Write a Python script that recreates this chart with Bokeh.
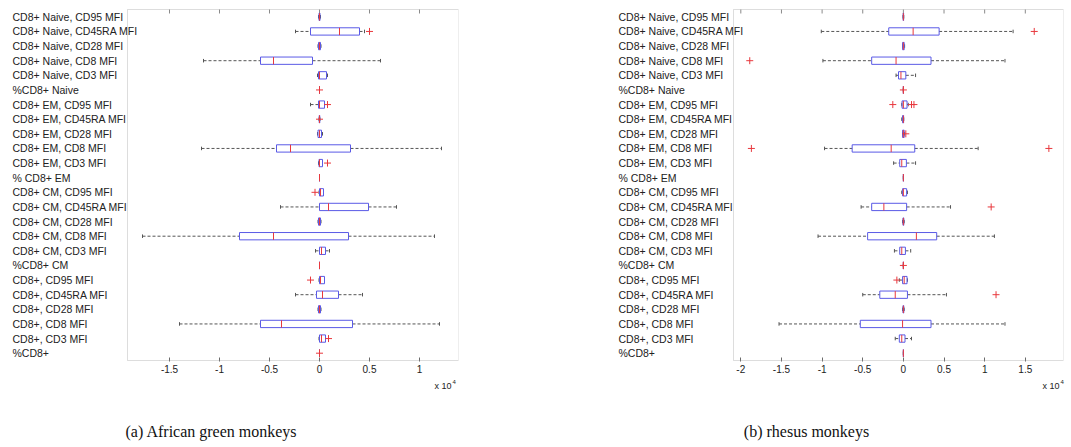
from bokeh.plotting import figure
from bokeh.models import (ColumnDataSource, Range1d, FixedTicker,
                          NumeralTickFormatter, BoxAnnotation)
from bokeh.layouts import row, column
from bokeh.core.properties import value
from bokeh.embed import file_html
from bokeh.resources import INLINE

# ---------------- data (values in units of 10^4) ----------------
labels = ["CD8+ Naive, CD95 MFI", "CD8+ Naive, CD45RA MFI", "CD8+ Naive, CD28 MFI",
          "CD8+ Naive, CD8 MFI", "CD8+ Naive, CD3 MFI", "%CD8+ Naive",
          "CD8+ EM, CD95 MFI", "CD8+ EM, CD45RA MFI", "CD8+ EM, CD28 MFI",
          "CD8+ EM, CD8 MFI", "CD8+ EM, CD3 MFI", "% CD8+ EM",
          "CD8+ CM, CD95 MFI", "CD8+ CM, CD45RA MFI", "CD8+ CM, CD28 MFI",
          "CD8+ CM, CD8 MFI", "CD8+ CM, CD3 MFI", "%CD8+ CM",
          "CD8+, CD95 MFI", "CD8+, CD45RA MFI", "CD8+, CD28 MFI",
          "CD8+, CD8 MFI", "CD8+, CD3 MFI", "%CD8+"]

# African green monkeys
agm_lo  = [-0.01, -0.24, -0.015, -1.16, -0.02, 0.0, -0.09, -0.005, -0.02, -1.18, -0.01, 0.0,
           -0.005, -0.39, -0.015, -1.77, -0.04, 0.0, -0.005, -0.24, -0.015, -1.40, -0.005, 0.0]
agm_q1  = [-0.005, -0.09, -0.01, -0.59, -0.01, 0.0, -0.01, -0.003, -0.015, -0.43, -0.005, 0.0,
           0.0, 0.0, -0.01, -0.80, 0.0, 0.0, 0.0, -0.03, -0.01, -0.59, 0.0, 0.0]
agm_med = [0.0, 0.20, 0.0, -0.46, 0.0, 0.0, 0.0, 0.0, 0.0, -0.29, 0.0, 0.0,
           0.01, 0.09, 0.0, -0.46, 0.02, 0.0, 0.01, 0.03, 0.0, -0.38, 0.02, 0.0]
agm_q3  = [0.005, 0.40, 0.01, -0.07, 0.07, 0.0, 0.05, 0.003, 0.02, 0.31, 0.03, 0.0,
           0.04, 0.49, 0.01, 0.29, 0.06, 0.0, 0.05, 0.19, 0.01, 0.33, 0.06, 0.0]
agm_hi  = [0.01, 0.45, 0.015, 0.61, 0.08, 0.0, 0.05, 0.005, 0.03, 1.22, 0.03, 0.0,
           0.04, 0.77, 0.015, 1.15, 0.10, 0.0, 0.05, 0.43, 0.015, 1.20, 0.06, 0.0]
agm_out = [[], [0.50], [], [], [], [0.0], [0.08], [0.0], [], [], [0.08], [],
           [-0.045], [], [], [], [], [], [-0.09], [], [], [], [0.09], [0.0]]

# rhesus monkeys
rh_lo  = [-0.005, -1.01, -0.01, -0.99, -0.09, 0.0, -0.02, -0.02, -0.01, -0.97, -0.12, 0.0,
          -0.02, -0.52, -0.01, -1.05, -0.11, 0.0, -0.05, -0.50, -0.01, -1.53, -0.10, 0.0]
rh_q1  = [-0.003, -0.18, -0.01, -0.39, -0.06, 0.0, -0.016, -0.01, -0.01, -0.63, -0.045, 0.0,
          -0.01, -0.39, -0.005, -0.44, -0.045, 0.0, -0.01, -0.29, -0.005, -0.53, -0.05, 0.0]
rh_med = [0.0, 0.12, 0.0, -0.09, -0.03, 0.0, 0.0, 0.0, 0.0, -0.15, -0.02, 0.0,
          0.0, -0.24, 0.0, 0.16, -0.02, 0.0, 0.01, -0.10, 0.0, -0.01, -0.02, 0.0]
rh_q3  = [0.003, 0.44, 0.01, 0.34, 0.03, 0.0, 0.045, 0.003, 0.01, 0.14, 0.037, 0.0,
          0.04, 0.04, 0.005, 0.41, 0.025, 0.0, 0.045, 0.05, 0.005, 0.34, 0.02, 0.0]
rh_hi  = [0.005, 1.35, 0.015, 1.25, 0.15, 0.0, 0.06, 0.005, 0.015, 0.92, 0.15, 0.0,
          0.05, 0.58, 0.01, 1.12, 0.09, 0.0, 0.05, 0.53, 0.01, 1.25, 0.10, 0.0]
rh_out = [[], [1.61], [], [-1.89], [], [0.0], [-0.13, 0.10, 0.13], [], [0.03], [-1.87, 1.79], [], [],
          [], [1.08], [], [], [], [0.0], [-0.08], [1.14], [], [], [], []]

ticks_a = [-1.5, -1, -0.5, 0, 0.5, 1]
ticks_b = [-2, -1.5, -1, -0.5, 0, 0.5, 1, 1.5]
captions = ["(a) African green monkeys", "(b) rhesus monkeys"]

BOX = "#5a5ae6"
MED = "#e8383d"
WH = "#555555"
FRAME_LINE = "#8f8f8f"
FONT = "Liberation Sans"
TOP = 8          # frame top (1px above plot box)
BOX_H = 351      # plot box height in px
BOT = 18         # room for tick labels
TOTAL_H = 447


def panel(lo, q1, med, q3, hi, outs, xstart, xend, ticks, box_left, box_w, right_b, fig_w):
    n = len(labels)
    pos = list(range(1, n + 1))
    ppu = box_w / (xend - xstart)
    ppy = BOX_H / n
    pad = 1.0 / ppy
    frame_w = box_left + box_w

    def px2x(px):
        return xstart + (px - box_left) / ppu

    p = figure(width=fig_w, frame_width=frame_w, frame_height=BOX_H + 2,
               min_border_left=0, min_border_right=right_b,
               min_border_top=TOP, min_border_bottom=BOT,
               x_range=Range1d(px2x(0), xend),
               y_range=Range1d(n + 0.5 + pad, 0.5 - pad),
               output_backend="svg", toolbar_location=None)
    p.xgrid.visible = False
    p.ygrid.visible = False
    p.yaxis.visible = False
    p.outline_line_color = None
    p.background_fill_color = "white"
    p.border_fill_color = "white"

    xa = p.xaxis[0]
    xa.ticker = FixedTicker(ticks=ticks)
    xa.formatter = NumeralTickFormatter(format="0.[0]")
    xa.major_tick_in = 4
    xa.major_tick_out = 0
    xa.minor_tick_line_color = None
    xa.axis_line_color = None
    xa.major_tick_line_color = "#6a6a6a"
    xa.major_label_text_font = FONT
    xa.major_label_text_font_size = "10px"
    xa.major_label_text_color = "#222222"
    xa.major_label_standoff = 3

    # plot box
    p.add_layout(BoxAnnotation(left=xstart, right=xend, top=0.5, bottom=n + 0.5,
                               fill_color=None, line_color=FRAME_LINE, line_width=1))
    # inward ticks on the top edge of the box, at the same tick values
    p.segment(x0=ticks, x1=ticks, y0=[0.5] * len(ticks), y1=[0.5 + 4.0 / ppy] * len(ticks),
              line_color="#8a8a8a", line_width=1)

    src = ColumnDataSource(dict(y=pos, lo=lo, q1=q1, med=med, q3=q3, hi=hi,
                                ylo=[v - 0.12 for v in pos], yhi=[v + 0.12 for v in pos],
                                blo=[v - 0.25 for v in pos], bhi=[v + 0.25 for v in pos],
                                lx=[px2x(box_left - 115)] * n, t=labels))
    # whiskers
    p.segment(x0="lo", x1="q1", y0="y", y1="y", source=src, line_color=WH,
              line_width=1, line_dash="3 2")
    p.segment(x0="q3", x1="hi", y0="y", y1="y", source=src, line_color=WH,
              line_width=1, line_dash="3 2")
    p.segment(x0="lo", x1="lo", y0="ylo", y1="yhi", source=src, line_color=WH, line_width=1)
    p.segment(x0="hi", x1="hi", y0="ylo", y1="yhi", source=src, line_color=WH, line_width=1)
    # boxes
    p.hbar(y="y", left="q1", right="q3", height=0.5, source=src, fill_color=None,
           line_color=BOX, line_width=1)
    # medians
    p.segment(x0="med", x1="med", y0="blo", y1="bhi", source=src, line_color=MED, line_width=1)
    # outliers
    ox, oy = [], []
    for i, vals in enumerate(outs):
        for v in vals:
            ox.append(v)
            oy.append(pos[i])
    p.scatter(ox, oy, marker="cross", size=7, line_color=MED, line_width=1)

    # row labels (left aligned)
    p.text(x="lx", y="y", text="t", source=src, text_font=value(FONT),
           text_font_size="10.5px", text_color="#222222",
           text_baseline="middle", text_align="left")
    return p


def caption_fig(fig_w, h, caption, cap_x, exp_right):
    c = figure(width=fig_w, height=h, x_range=Range1d(0, fig_w), y_range=Range1d(h, 0),
               min_border=0, min_border_left=0, min_border_right=0,
               min_border_top=0, min_border_bottom=0,
               x_axis_type=None, y_axis_type=None,
               output_backend="svg", toolbar_location=None)
    c.xgrid.visible = False
    c.ygrid.visible = False
    c.outline_line_color = None
    c.text(x=[exp_right], y=[6], text=["x 10"], text_font=value(FONT),
           text_font_size="9px", text_align="right", text_baseline="middle",
           text_color="#222222")
    c.text(x=[exp_right + 1], y=[2.5], text=["4"], text_font=value(FONT),
           text_font_size="6px", text_align="left", text_baseline="middle",
           text_color="#222222")
    c.text(x=[cap_x], y=[h - 16], text=[caption], text_font=value("Liberation Serif"),
           text_font_size="16px", text_align="center", text_baseline="middle",
           text_color="#111111")
    return c


W1, W2 = 535, 536
main_h = TOP + BOX_H + 2 + BOT
cap_h = TOTAL_H - main_h

p1 = panel(agm_lo, agm_q1, agm_med, agm_q3, agm_hi, agm_out, -1.92, 1.39, ticks_a,
           127, 331, 77, W1)
p2 = panel(rh_lo, rh_q1, rh_med, rh_q3, rh_hi, rh_out, -2.09, 1.97, ticks_b,
           198, 330, 8, W2)
c1 = caption_fig(W1, cap_h, captions[0], 211, 451)
c2 = caption_fig(W2, cap_h, captions[1], 806 - W1, 1059 - W1)

layout = column(row(p1, p2), row(c1, c2))
open("out.html", "w").write(file_html(layout, INLINE))
